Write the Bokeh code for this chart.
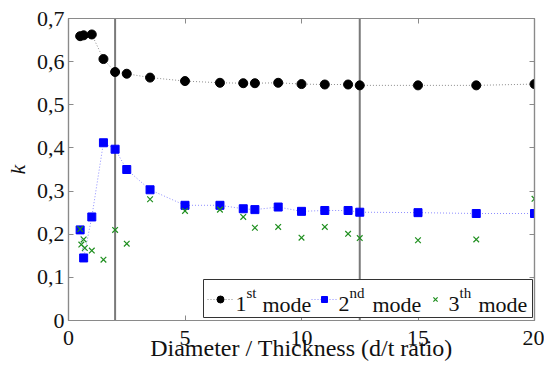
from bokeh.plotting import figure
from bokeh.models import Span, LinearAxis, FixedTicker, Label, BoxAnnotation, CustomJSTickFormatter
from bokeh.embed import file_html
from bokeh.resources import INLINE

# Diameter / thickness ratios and the k coefficient of each mode
ratio_1 = [0.5, 0.65, 1.0, 1.5, 2, 2.5, 3.5, 5, 6.5, 7.5, 8, 9, 10, 11, 12, 12.5, 15, 17.5, 20]
k_1 = [0.659, 0.661, 0.663, 0.606, 0.576, 0.572, 0.563, 0.555, 0.551, 0.550, 0.550,
       0.551, 0.548, 0.547, 0.547, 0.545, 0.545, 0.545, 0.548]

ratio_2 = [0.5, 0.65, 1.0, 1.5, 2, 2.5, 3.5, 5, 6.5, 7.5, 8, 9, 10, 11, 12, 12.5, 15, 17.5, 20]
k_2 = [0.210, 0.145, 0.240, 0.412, 0.397, 0.350, 0.303, 0.267, 0.267, 0.259, 0.257,
       0.263, 0.253, 0.255, 0.255, 0.251, 0.250, 0.248, 0.248]

ratio_3 = [0.5, 0.55, 0.65, 0.7, 1.0, 1.5, 2, 2.5, 3.5, 5, 6.5, 7.5, 8, 9, 10, 11, 12,
           12.5, 15, 17.5, 20]
k_3 = [0.212, 0.176, 0.188, 0.168, 0.162, 0.141, 0.210, 0.178, 0.281, 0.254, 0.257,
       0.240, 0.215, 0.217, 0.192, 0.217, 0.201, 0.191, 0.186, 0.188, 0.282]

# reference ratios marked with vertical lines
marked_ratios = [2, 12.5]

x_ticks = [0, 5, 10, 15, 20]
y_ticks = [0, 0.1, 0.2, 0.3, 0.4, 0.5, 0.6, 0.7]
y_tick_labels = ["0", "0,1", "0,2", "0,3", "0,4", "0,5", "0,6", "0,7"]

FONT = "Liberation Serif"
FS = 22          # tick / legend text size, px
FS_XLABEL = 24   # x axis title size, px
FS_SUP = 15      # superscript size, px
TXT = "#111111"
AXIS_GREY = "#8a8a8a"

# frame geometry (page pixels) used to place the legend
FL, FR, FT, FB = 68, 534, 18, 320
XR, YR = (0, 20), (0, 0.7)


def dx(px):
    return XR[0] + (px - FL) / (FR - FL) * (XR[1] - XR[0])


def dy(py):
    return YR[0] + (FB - py) / (FB - FT) * (YR[1] - YR[0])


def mid_for_baseline(baseline, size):
    # vertical centre of a text box whose baseline sits at `baseline`
    return baseline - 0.3375 * size


p = figure(width=544, height=367, x_range=XR, y_range=YR,
           output_backend="svg", toolbar_location=None,
           min_border_left=FL, min_border_right=544 - FR,
           min_border_top=FT, min_border_bottom=367 - FB)
p.xgrid.visible = False
p.ygrid.visible = False
p.outline_line_color = AXIS_GREY
p.outline_line_width = 1.2
p.background_fill_color = "white"
p.border_fill_color = "white"

for ax in (p.xaxis[0], p.yaxis[0]):
    ax.axis_line_color = AXIS_GREY
    ax.axis_line_width = 1.2
    ax.major_tick_line_color = AXIS_GREY
    ax.major_tick_in = 5
    ax.major_tick_out = 0
    ax.minor_tick_line_color = None
    ax.major_label_text_font = FONT
    ax.major_label_text_font_size = f"{FS}px"
    ax.major_label_text_color = TXT
    ax.axis_label_text_font = FONT
    ax.axis_label_text_color = TXT

p.xaxis.ticker = FixedTicker(ticks=x_ticks)
p.yaxis.ticker = FixedTicker(ticks=y_ticks)
p.yaxis.major_label_overrides = dict(zip(y_ticks, y_tick_labels))
p.xaxis.axis_label = "Diameter / Thickness (d/t ratio)"
p.xaxis.axis_label_text_font_style = "normal"
p.xaxis.axis_label_text_font_size = f"{FS_XLABEL}px"
p.xaxis.major_label_standoff = 10
p.xaxis.axis_label_standoff = -13
p.yaxis.axis_label = "k"
p.yaxis.axis_label_text_font_style = "italic"
p.yaxis.axis_label_text_font_size = f"{FS}px"
p.yaxis.major_label_standoff = 4
p.yaxis.axis_label_standoff = 4

# mirrored tick marks on top and right
blank = CustomJSTickFormatter(code="return ''")
for side, ticks in (("above", x_ticks), ("right", y_ticks)):
    ax = LinearAxis(ticker=FixedTicker(ticks=ticks), formatter=blank,
                    axis_line_color=AXIS_GREY, axis_line_width=1.2,
                    major_tick_line_color=AXIS_GREY, major_tick_in=5, major_tick_out=0,
                    minor_tick_line_color=None, major_label_text_font_size="1px",
                    major_label_standoff=0)
    p.add_layout(ax, side)

for r in marked_ratios:
    p.add_layout(Span(location=r, dimension="height", line_color="#7a7a7a",
                      line_width=2, level="underlay"))

# data series
p.line(ratio_1, k_1, line_color="black", line_alpha=0.45, line_width=1, line_dash="1 2")
p.line(ratio_2, k_2, line_color="blue", line_alpha=0.45, line_width=1, line_dash="1 2")
p.scatter(ratio_1, k_1, marker="circle", size=9, fill_color="black", line_color="black")
p.scatter(ratio_2, k_2, marker="square", size=8, fill_color="blue", line_color="blue")
p.scatter(ratio_3, k_3, marker="x", size=8, line_color="#1f8f1f", line_width=1.2)

# legend
p.add_layout(BoxAnnotation(left=dx(203), right=dx(532), top=dy(279), bottom=dy(317),
                           fill_color="white", fill_alpha=1.0,
                           line_color="#333333", line_width=1, line_alpha=1.0))
LEG_Y = 299
BASE = 311
BASE_SUP = 298
entries = [
    dict(mx=220, line=(207, 233), num="1", sup="st", nx=235, sx=246, tx=262,
         marker="circle", color="black", size=7),
    dict(mx=324, line=(311, 337), num="2", sup="nd", nx=338, sx=349, tx=372,
         marker="square", color="blue", size=6),
    dict(mx=435, line=None, num="3", sup="th", nx=448, sx=459, tx=478,
         marker="x", color="#1f8f1f", size=6),
]
for e in entries:
    if e["line"]:
        r = p.line([dx(e["line"][0]), dx(e["line"][1])], [dy(LEG_Y), dy(LEG_Y)],
                   line_color=e["color"], line_alpha=0.45, line_width=1, line_dash="1 2")
        r.level = "overlay"
    if e["marker"] == "x":
        r = p.scatter([dx(e["mx"])], [dy(LEG_Y)], marker="x", size=e["size"],
                      line_color=e["color"], line_width=1.2)
    else:
        r = p.scatter([dx(e["mx"])], [dy(LEG_Y)], marker=e["marker"], size=e["size"],
                      fill_color=e["color"], line_color=e["color"])
    r.level = "overlay"
    for txt, x, base, size in ((e["num"], e["nx"], BASE, FS),
                               (e["sup"], e["sx"], BASE_SUP, FS_SUP),
                               ("mode", e["tx"], BASE, FS)):
        p.add_layout(Label(x=dx(x), y=dy(mid_for_baseline(base, size)), text=txt,
                           text_font=FONT, text_font_size=f"{size}px",
                           text_baseline="middle", text_color=TXT, level="overlay"))

open("out.html", "w").write(file_html(p, INLINE))
